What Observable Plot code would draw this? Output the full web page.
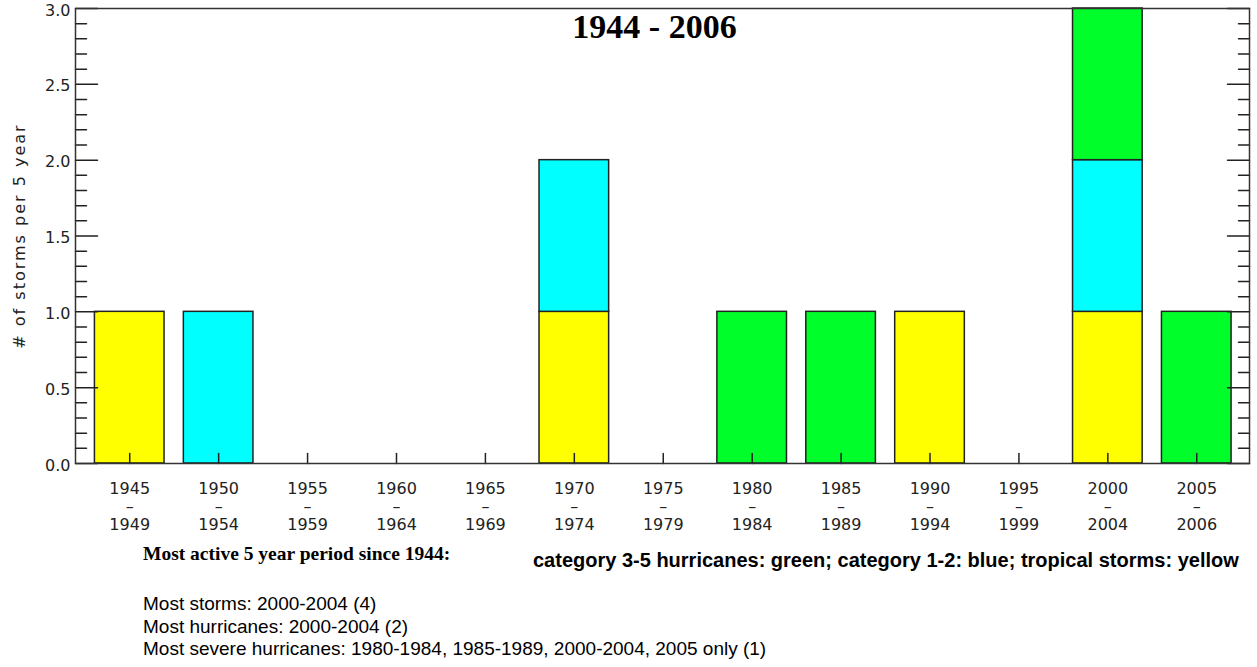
<!DOCTYPE html>
<html>
<head>
<meta charset="utf-8">
<script src="https://cdn.jsdelivr.net/npm/d3@7"></script>
<script src="https://cdn.jsdelivr.net/npm/@observablehq/plot@0.6"></script>
<style>
  html, body { margin: 0; padding: 0; background: #fff; }
  body { width: 1257px; height: 667px; position: relative; overflow: hidden; }
  #chart { position: absolute; left: 0; top: 0; }
  .note { position: absolute; white-space: nowrap; color: #000; }
  #n1 { left: 143px; top: 542px; font: bold 19.5px "Liberation Serif", serif; line-height: 24px; }
  #n2 { left: 533px; top: 548px; font: bold 20px "Liberation Sans", Arial, sans-serif; line-height: 24px; }
  #n3 { left: 143px; top: 593px; font: 19px "Liberation Sans", Arial, sans-serif; line-height: 22.5px; }
</style>
</head>
<body>
<div id="chart"></div>
<div class="note" id="n1"></div>
<div class="note" id="n2"></div>
<div class="note" id="n3"></div>
<script>
// ---- data ----
const periodStarts = ["1945","1950","1955","1960","1965","1970","1975","1980","1985","1990","1995","2000","2005"];
const periodEnds   = ["1949","1954","1959","1964","1969","1974","1979","1984","1989","1994","1999","2004","2006"];
const tropicalStorms = [1,0,0,0,0,1,0,0,0,1,0,1,0];
const category12     = [0,1,0,0,0,1,0,0,0,0,0,1,0];
const category35     = [0,0,0,0,0,0,0,1,1,0,0,1,1];
const seriesNames  = ["tropical storms","category 1-2","category 3-5"];
const seriesColors = ["#ffff00","#00ffff","#00ff2a"];
const yMajorTicks = [0, 0.5, 1.0, 1.5, 2.0, 2.5, 3.0];
const yMinorTicks = [0.1,0.2,0.3,0.4,0.6,0.7,0.8,0.9,1.1,1.2,1.3,1.4,1.6,1.7,1.8,1.9,2.1,2.2,2.3,2.4,2.6,2.7,2.8,2.9];
const titleText = "1944 - 2006";
const yLabelText = "# of storms per 5 year";
const noteHeading = "Most active 5 year period since 1944:";
const legendText = "category 3-5 hurricanes: green; category 1-2: blue; tropical storms: yellow";
const noteLines = [
  "Most storms: 2000-2004 (4)",
  "Most hurricanes: 2000-2004 (2)",
  "Most severe hurricanes: 1980-1984, 1985-1989, 2000-2004, 2005 only (1)"
];

// ---- table ----
const seriesValues = [tropicalStorms, category12, category35];
const rows = [];
periodStarts.forEach((p, i) => {
  seriesNames.forEach((s, k) => {
    const v = seriesValues[k][i];
    if (v > 0) rows.push({period: p, series: s, value: v});
  });
});
const endOf = new Map(periodStarts.map((p, i) => [p, periodEnds[i]]));

const lineShape = {draw(context, l) { context.moveTo(0, 0); context.lineTo(0, -l); }};
const tickColor = "#222";

const chart = Plot.plot({
  width: 1257,
  height: 545,
  marginLeft: 75,
  marginRight: 8,
  marginTop: 8,
  marginBottom: 82,
  style: {fontFamily: "DejaVu Sans, sans-serif", fontSize: "16px", color: "#222", background: "#fff"},
  x: {type: "band", domain: periodStarts, paddingInner: 0.217, paddingOuter: 0.21, align: 0.52, round: false, label: null},
  y: {domain: [0, 3], label: null},
  color: {domain: seriesNames, range: seriesColors},
  marks: [
    Plot.barY(rows, {x: "period", y: "value", fill: "series", stroke: "#222", strokeWidth: 1.5}),
    // inward ticks
    Plot.vector(yMajorTicks, {y: d => d, frameAnchor: "left", rotate: 90, length: 22, anchor: "start", shape: lineShape, stroke: tickColor, strokeWidth: 1.5}),
    Plot.vector(yMinorTicks, {y: d => d, frameAnchor: "left", rotate: 90, length: 11, anchor: "start", shape: lineShape, stroke: tickColor, strokeWidth: 1.5}),
    Plot.vector(yMajorTicks, {y: d => d, frameAnchor: "right", rotate: -90, length: 22, anchor: "start", shape: lineShape, stroke: tickColor, strokeWidth: 1.5}),
    Plot.vector(yMinorTicks, {y: d => d, frameAnchor: "right", rotate: -90, length: 11, anchor: "start", shape: lineShape, stroke: tickColor, strokeWidth: 1.5}),
    Plot.vector(periodStarts, {x: d => d, frameAnchor: "bottom", rotate: 0, length: 10, anchor: "start", shape: lineShape, stroke: tickColor, strokeWidth: 1.5}),
    Plot.frame({stroke: "#333", strokeWidth: 1.5}),
    Plot.axisY({ticks: yMajorTicks, tickSize: 0, tickPadding: 5, tickFormat: d => d.toFixed(1), fontSize: 16, dy: 2}),
    Plot.axisX({tickSize: 0, tickPadding: 18, fontSize: 16, lineHeight: 1.13, tickFormat: d => `${d}\n–\n${endOf.get(d)}`}),
    Plot.text([yLabelText], {frameAnchor: "left", textAnchor: "middle", rotate: -90, dx: -56, fontSize: 16, ariaDescription: "y-label"}),
    Plot.text([titleText], {frameAnchor: "top", textAnchor: "middle", dy: 19, dx: -8, fontSize: 34, fontWeight: "bold", fontFamily: "Liberation Serif, serif", fill: "#000", lineAnchor: "middle"})
  ]
});
document.getElementById("chart").appendChild(chart);
const yl = chart.querySelector('[aria-description="y-label"]');
if (yl) yl.style.letterSpacing = "2px";

document.getElementById("n1").textContent = noteHeading;
document.getElementById("n2").textContent = legendText;
document.getElementById("n3").innerHTML = noteLines.map(s => s.replace(/&/g, "&amp;").replace(/</g, "&lt;")).join("<br>");
</script>
</body>
</html>
